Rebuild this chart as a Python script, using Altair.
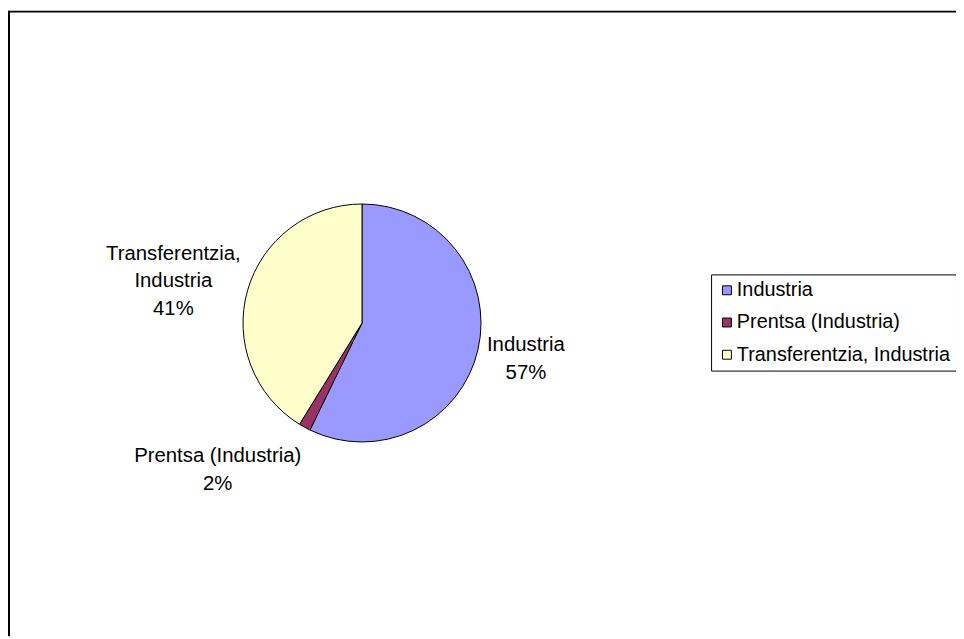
import altair as alt
import pandas as pd

# ---- data ----
categories = ["Industria", "Prentsa (Industria)", "Transferentzia, Industria"]
label_names = ["Industria", "Prentsa (Industria)", "Transferentzia,\nIndustria"]
values = [57.2, 1.6, 41.2]
slice_order = [0, 1, 2]
colors = ["#9999FF", "#993366", "#FFFFCC"]

df = pd.DataFrame({"cat": categories, "lname": label_names,
                   "value": values, "ord": slice_order})

W, H = 956, 631
CX, CY = 357, 315
R = 120
LR = 165
FONT = "Liberation Sans"
FS = 20.5

base = alt.Chart(df).transform_joinaggregate(
    total="sum(value)"
).transform_calculate(
    lbl="datum.lname + '\\n' + format(datum.value / datum.total, '.0%')"
)

pie = base.mark_arc(outerRadius=R, stroke="black", strokeWidth=1).encode(
    theta=alt.Theta("value:Q", stack=True),
    order=alt.Order("ord:Q"),
    color=alt.Color(
        "cat:N",
        scale=alt.Scale(domain=categories, range=colors),
        legend=alt.Legend(
            orient="none", legendX=709, legendY=266, title=None,
            strokeColor="black", fillColor="white", padding=6,
            cornerRadius=0, symbolType="square", symbolSize=81,
            symbolStrokeColor="black", symbolStrokeWidth=1,
            symbolOpacity=1, labelFont=FONT, labelFontSize=20,
            labelColor="black", labelOffset=0,
            rowPadding=12.5, labelLimit=0,
        ),
    ),
    x=alt.value(CX),
    y=alt.value(CY),
)


def label_layer(cat, dx, dy):
    return base.mark_text(
        radius=LR, lineBreak="\n", font=FONT, fontSize=FS, color="black",
        align="center", baseline="middle", lineHeight=28, dx=dx, dy=dy,
    ).encode(
        theta=alt.Theta("value:Q", stack=True),
        order=alt.Order("ord:Q"),
        detail="cat:N",
        text=alt.condition(f"datum.cat == '{cat}'", alt.Text("lbl:N"), alt.value("")),
        x=alt.value(CX),
        y=alt.value(CY),
    )


lab1 = label_layer(categories[0], 4.5, -15)
lab2 = label_layer(categories[1], -66, -10)
lab3 = label_layer(categories[2], -31.5, -25)

frame_data = alt.Data(values=[{"k": 0}])
frame_top = alt.Chart(frame_data).mark_rule(color="black", strokeWidth=2).encode(
    x=alt.value(0), x2=alt.value(W), y=alt.value(1)
)
frame_left = alt.Chart(frame_data).mark_rule(color="black", strokeWidth=2).encode(
    x=alt.value(1), y=alt.value(0), y2=alt.value(H)
)

chart = alt.layer(frame_top, frame_left, pie, lab1, lab2, lab3).properties(
    width=W, height=H, padding=0,
    autosize=alt.AutoSizeParams(type="none"),
).configure_view(stroke=None)

chart.save("out.html", embed_options={"renderer": "svg", "actions": False})
